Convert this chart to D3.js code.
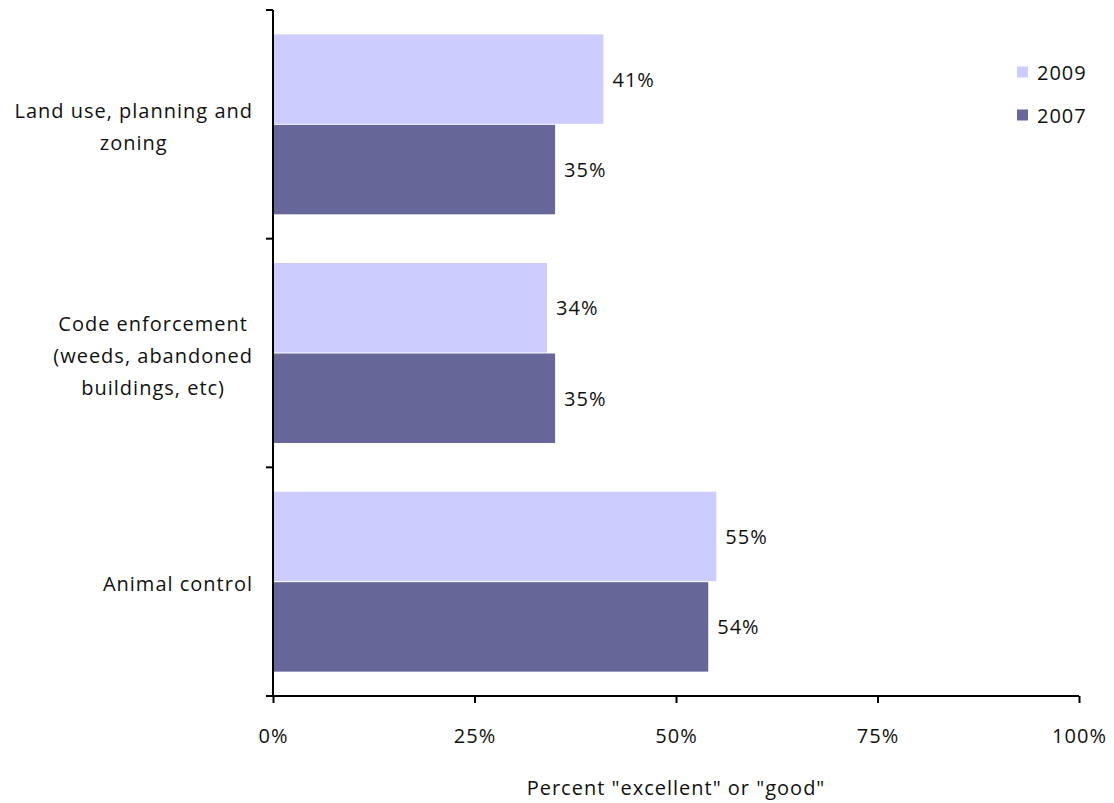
<!DOCTYPE html>
<html>
<head>
<meta charset="utf-8">
<script src="https://cdn.jsdelivr.net/npm/d3@7"></script>
<style>
  html, body { margin: 0; padding: 0; background: #fff; }
  svg { display: block; }
  text { font-family: "Open Sans", Lato, sans-serif; fill: #111; letter-spacing: 1px; }
</style>
</head>
<body>
<svg id="chart" width="1114" height="803"></svg>
<script>
const categories = [
  ["Land use, planning and", "zoning"],
  ["Code enforcement", "(weeds, abandoned", "buildings, etc)"],
  ["Animal control"]
];
const seriesNames = ["2009", "2007"];
const values2009 = [41, 34, 55];
const values2007 = [35, 35, 54];
const xTicks = [0, 25, 50, 75, 100];
const xTitle = 'Percent "excellent" or "good"';
const colors = ["#CCCCFF", "#666699"];

(function() {
const svg = d3.select("#chart");
const mLeft = 273, mRight = 1079, mTop = 10, mBottom = 696;
const fontSize = 20;
const fontFam = "'Open Sans', Lato, sans-serif";

const x = d3.scaleLinear().domain([0, 100]).range([mLeft, mRight]);
const catKeys = categories.map((c, i) => i);
const y = d3.scaleBand().domain(catKeys).range([mTop, mBottom]).paddingInner(0.213).paddingOuter(0.1065);
const y1 = d3.scaleBand().domain(seriesNames).range([0, y.bandwidth()]).paddingInner(0.011);

const data = catKeys.map(i => ({i, vals: [values2009[i], values2007[i]]}));

const g = svg.append("g");
data.forEach(d => {
  seriesNames.forEach((s, k) => {
    const v = d.vals[k];
    const by = y(d.i) + y1(s);
    g.append("rect")
      .attr("x", x(0)).attr("y", by)
      .attr("width", x(v) - x(0)).attr("height", y1.bandwidth())
      .attr("fill", colors[k]);
    g.append("text")
      .attr("x", x(v) + 9).attr("y", by + y1.bandwidth() / 2)
      .attr("dominant-baseline", "central")
      .attr("font-size", fontSize)
      .text(v + "%");
  });
});

const yTickPos = catKeys.map(i => y(i) - y.step() * y.paddingInner() / 2).concat([mBottom]);
yTickPos[0] = mTop;
const yAxis = svg.append("g");
yAxis.append("line").attr("x1", mLeft).attr("x2", mLeft).attr("y1", mTop).attr("y2", mBottom)
  .attr("stroke", "#000").attr("stroke-width", 2);
yTickPos.forEach(p => {
  yAxis.append("line").attr("x1", mLeft - 7).attr("x2", mLeft).attr("y1", p).attr("y2", p)
    .attr("stroke", "#000").attr("stroke-width", 2);
});

const xAxis = svg.append("g").attr("transform", `translate(0,${mBottom})`)
  .call(d3.axisBottom(x).tickValues(xTicks).tickFormat(d => d + "%").tickSize(7).tickPadding(26));
xAxis.select(".domain").attr("stroke", "#000").attr("stroke-width", 2).attr("d", `M${mLeft - 7},0H${mRight}`);
xAxis.selectAll(".tick line").attr("stroke", "#000").attr("stroke-width", 2);
xAxis.selectAll(".tick text").attr("font-size", fontSize).attr("font-family", fontFam).attr("fill", "#111");

const lineH = 32;
data.forEach(d => {
  const lines = categories[d.i];
  const t = svg.append("text").attr("font-size", fontSize).attr("text-anchor", "middle");
  const cy = y(d.i) + y.bandwidth() / 2 + 2;
  const n = lines.length;
  lines.forEach((l, j) => {
    t.append("tspan").attr("y", cy + (j - (n - 1) / 2) * lineH).attr("dominant-baseline", "central").text(l);
  });
  let maxW = 0;
  t.selectAll("tspan").each(function() { maxW = Math.max(maxW, this.getComputedTextLength()); });
  t.selectAll("tspan").attr("x", 253 - maxW / 2);
});

svg.append("text").attr("x", (mLeft + mRight) / 2).attr("y", 787)
  .attr("text-anchor", "middle").attr("dominant-baseline", "central")
  .attr("font-size", fontSize).text(xTitle);

const legend = svg.append("g");
seriesNames.forEach((s, k) => {
  const ly = 72 + k * 43;
  legend.append("rect").attr("x", 1017).attr("y", ly - 5.5).attr("width", 11).attr("height", 11).attr("fill", colors[k]);
  legend.append("text").attr("x", 1037).attr("y", ly).attr("dominant-baseline", "central")
    .attr("font-size", fontSize).text(s);
});
})();
</script>
</body>
</html>
